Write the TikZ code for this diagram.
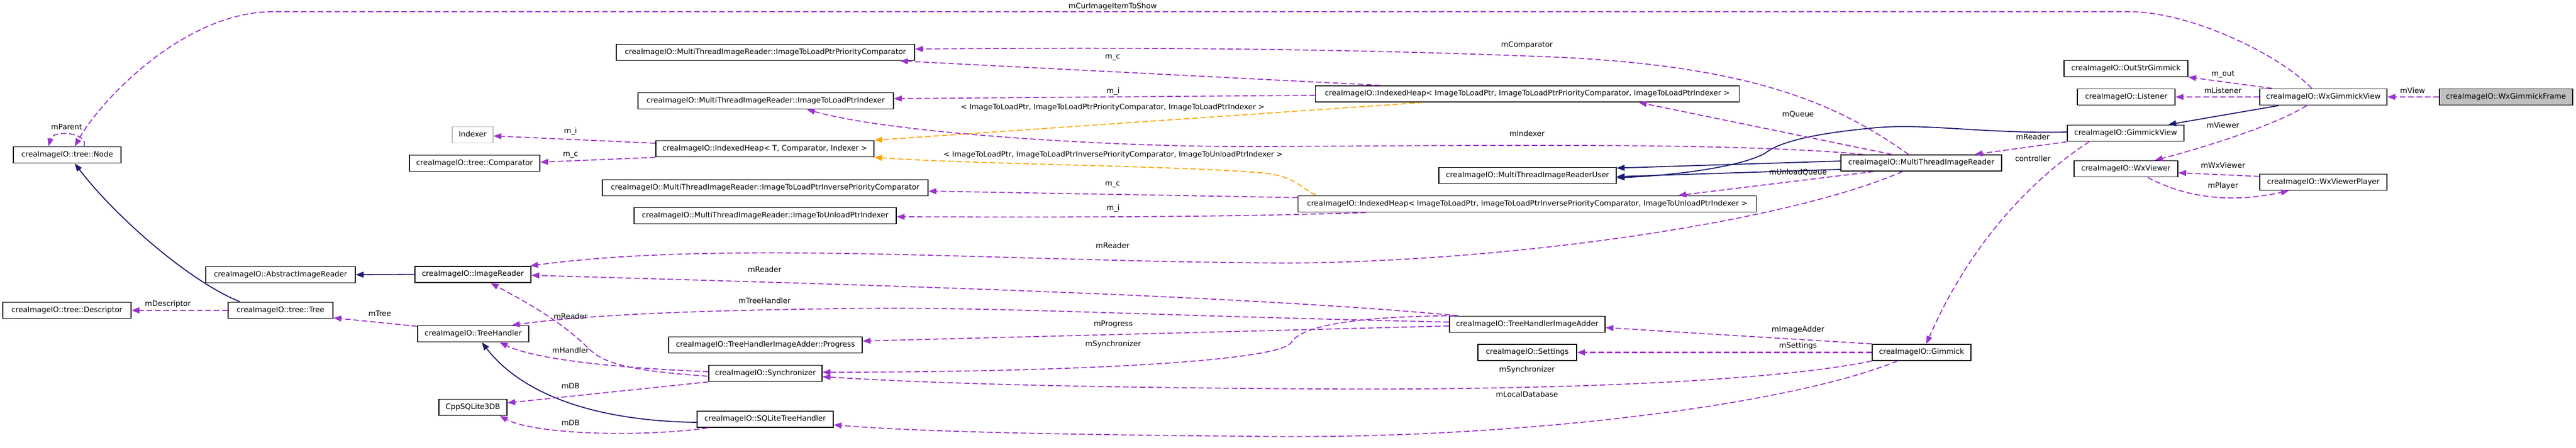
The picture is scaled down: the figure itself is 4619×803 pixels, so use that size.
\documentclass[tikz,border=0pt]{standalone}
\usepackage{fontspec}
\setmainfont{DejaVu Sans}
\usetikzlibrary{arrows.meta,calc}
\definecolor{usecol}{HTML}{9A32CD}
\definecolor{inhcol}{HTML}{191970}
\definecolor{tplcol}{HTML}{FFA500}
\definecolor{grayfill}{HTML}{BFBFBF}
\begin{document}
\begin{tikzpicture}[x=1pt,y=-1pt,
  cls/.style={draw=black, line width=1.8pt, fill=white, inner sep=0pt, minimum height=29pt,
    text height=9.7pt, text depth=3.1pt, font=\fontsize{13.33}{16}\selectfont},
  lbl/.style={inner sep=0pt, text height=9.7pt, text depth=3.1pt, font=\fontsize{13.33}{16}\selectfont},
  tipA/.style={-{Triangle[length=14pt,width=10.5pt]}},
  use/.style={draw=usecol, line width=1.8pt, dash pattern=on 10pt off 5pt, tipA},
  usethick/.style={use, line width=2.4pt},
  inh/.style={draw=inhcol, line width=1.8pt, tipA},
  tpl/.style={draw=tplcol, line width=1.8pt, dash pattern=on 10pt off 5pt, tipA}
]
\fill[white] (0,0) rectangle (4619,803);
\useasboundingbox (0,0) rectangle (4619,803);

% ---------- classes ----------
\node[cls, minimum width=193pt] (nNode) at (120.5,278) {creaImageIO::tree::Node};
\node[cls, minimum width=268pt] (nAbstr) at (503,493) {creaImageIO::AbstractImageReader};
\node[cls, minimum width=230pt] (nDescr) at (120,557) {creaImageIO::tree::Descriptor};
\node[cls, minimum width=188pt] (nTree) at (503,557) {creaImageIO::tree::Tree};
\node[cls, minimum width=208pt] (nImgReader) at (848,492.5) {creaImageIO::ImageReader};
\node[cls, minimum width=199pt] (nTreeHandler) at (848.5,599) {creaImageIO::TreeHandler};
\node[cls, minimum width=122pt] (nCppSQL) at (848,731) {CppSQLite3DB};
\node[cls, draw=grayfill, minimum width=73pt] (nIndexer) at (847.5,242) {Indexer};
\node[cls, minimum width=234pt] (nComparator) at (851,293) {creaImageIO::tree::Comparator};
\node[cls, minimum width=535pt] (nPComp) at (1372.5,94) {creaImageIO::MultiThreadImageReader::ImageToLoadPtrPriorityComparator};
\node[cls, minimum width=458pt] (nLoadIdx) at (1373,181) {creaImageIO::MultiThreadImageReader::ImageToLoadPtrIndexer};
\node[cls, minimum width=391pt] (nHeapT) at (1371.5,267) {creaImageIO::IndexedHeap< T, Comparator, Indexer >};
\node[cls, minimum width=584pt] (nIPComp) at (1372,337) {creaImageIO::MultiThreadImageReader::ImageToLoadPtrInversePriorityComparator};
\node[cls, minimum width=470pt] (nUnloadIdx) at (1372,387) {creaImageIO::MultiThreadImageReader::ImageToUnloadPtrIndexer};
\node[cls, minimum width=347pt] (nProgress) at (1372.5,619) {creaImageIO::TreeHandlerImageAdder::Progress};
\node[cls, minimum width=203pt] (nSync) at (1372.5,670) {creaImageIO::Synchronizer};
\node[cls, minimum width=244pt] (nSQLTH) at (1372,752.5) {creaImageIO::SQLiteTreeHandler};
\node[cls, minimum width=760pt] (nHeapL) at (2738.5,168.5) {creaImageIO::IndexedHeap< ImageToLoadPtr, ImageToLoadPtrPriorityComparator, ImageToLoadPtrIndexer >};
\node[cls, minimum width=318pt] (nMTIRU) at (2739,315) {creaImageIO::MultiThreadImageReaderUser};
\node[cls, minimum width=822pt] (nHeapU) at (2738.5,366) {creaImageIO::IndexedHeap< ImageToLoadPtr, ImageToLoadPtrInversePriorityComparator, ImageToUnloadPtrIndexer >};
\node[cls, minimum width=279pt] (nTHIA) at (2738.5,582) {creaImageIO::TreeHandlerImageAdder};
\node[cls, minimum width=177pt] (nSettings) at (2738.5,632.5) {creaImageIO::Settings};
\node[cls, minimum width=288pt] (nMTIR) at (3445,292.5) {creaImageIO::MultiThreadImageReader};
\node[cls, minimum width=177pt] (nGimmick) at (3445.5,632.5) {creaImageIO::Gimmick};
\node[cls, minimum width=222pt] (nOutStr) at (3812,123) {creaImageIO::OutStrGimmick};
\node[cls, minimum width=175pt] (nListener) at (3812.5,174) {creaImageIO::Listener};
\node[cls, minimum width=209pt] (nGView) at (3811.5,239) {creaImageIO::GimmickView};
\node[cls, minimum width=186pt] (nWxViewer) at (3812,303) {creaImageIO::WxViewer};
\node[cls, minimum width=228pt] (nWxGView) at (4166,174) {creaImageIO::WxGimmickView};
\node[cls, minimum width=228pt] (nWxPlayer) at (4166,327) {creaImageIO::WxViewerPlayer};
\node[cls, fill=grayfill, minimum width=239pt] (nFrame) at (4493.5,174) {creaImageIO::WxGimmickFrame};

% ---------- inheritance ----------
\draw[inh] ($(nTree.north west)+(22,0)$) .. controls (330,500) and (200,380) .. ($(nNode.south)+(13.5,0)$);
\draw[inh] (nImgReader.west) -- (nAbstr.east);
\draw[inh] ($(nSQLTH.west)+(0,5.5)$) .. controls (1050,755) and (930,700) .. ($(nTreeHandler.south)+(15.5,0)$);
\draw[inh] ($(nMTIR.west)+(0,-3.5)$) -- ($(nMTIRU.north east)+(0,2)$);
\draw[inh] ($(nMTIR.west)+(0,11.5)$) -- ($(nMTIRU.east)+(0,2)$);
\draw[inh] ($(nGView.west)+(0,-2)$) .. controls (3550,240) and (3450,220) .. (3355,230)
   .. controls (3250,240) and (3190,255) .. (3165,275)
   .. controls (3120,300) and (3000,315) .. ($(nMTIRU.east)+(0,4)$);
\draw[inh] ($(nWxGView.south west)+(35,0)$) -- ($(nGView.north)+(76.5,0)$);

% ---------- template instances ----------
\draw[tpl] ($(nHeapL.south west)+(194,0)$) -- (nHeapT.north east);
\draw[tpl] ($(nHeapU.north west)+(33,0)$) .. controls (2330,335) and (2320,315) .. (2260,310)
   .. controls (2100,297) and (1750,295) .. (nHeapT.south east);

% ---------- usage ----------
\draw[use] ($(nWxGView.north)+(-21,0)$) .. controls (4090,100) and (3930,21) .. (3817,21) -- (490,21)
   .. controls (330,21) and (180,180) .. ($(nNode.north)+(13.5,0)$);
\draw[use] ($(nNode.north)+(30,0)$) .. controls (160,238) and (95,232) .. ($(nNode.north)+(-33.5,0)$);
\draw[usethick] (nTree.west) -- (nDescr.east);
\draw[use] ($(nTreeHandler.north west)+(0,2)$) -- ($(nTree.south east)+(0,-2)$);
\draw[use] ($(nHeapT.west)+(0,-10)$) -- ($(nIndexer.east)+(0,2)$);
\draw[use] (nHeapT.south west) -- ($(nComparator.east)+(0,-2)$);
\draw[use] ($(nMTIR.north)+(-23,0)$) .. controls (3300,190) and (3150,120) .. (2800,103)
   .. controls (2400,86) and (2000,85) .. ($(nPComp.east)+(0,-6)$);
\draw[use] ($(nHeapL.north west)+(117,0)$) -- ($(nPComp.south east)+(-27,0)$);
\draw[use] ($(nHeapL.west)+(0,2.5)$) -- ($(nLoadIdx.east)+(0,-4)$);
\draw[use] ($(nMTIR.north west)+(41,0)$) .. controls (3100,254) and (2600,262) .. (2246,263)
   .. controls (2000,264) and (1600,240) .. ($(nLoadIdx.south)+(74,0)$);
\draw[use] ($(nMTIR.north west)+(92,0)$) -- ($(nHeapL.south west)+(581,0)$);
\draw[use] ($(nMTIR.south west)+(60,0)$) -- ($(nHeapU.north west)+(683,0)$);
\draw[use] ($(nHeapU.north west)+(0,4)$) -- ($(nIPComp.east)+(0,6)$);
\draw[use] ($(nHeapU.south west)+(123,0)$) .. controls (2200,390) and (1900,390) .. ($(nUnloadIdx.east)+(0,2)$);
\draw[use] ($(nMTIR.south west)+(111,0)$) .. controls (3200,400) and (2700,470) .. (2310,472)
   .. controls (1800,470) and (1300,430) .. ($(nImgReader.north east)+(-2,0)$);
\draw[use] ($(nTHIA.north west)+(17,0)$) .. controls (2200,528) and (1500,510) .. ($(nImgReader.east)+(0,1.5)$);
\draw[use] ($(nTHIA.west)+(0,-4)$) .. controls (2000,565) and (1800,550) .. (1502,554)
   .. controls (1250,557) and (1050,565) .. ($(nTreeHandler.north)+(69.5,0)$);
\draw[use] ($(nTHIA.west)+(0,3)$) -- ($(nProgress.east)+(0,-7)$);
\draw[use] ($(nTHIA.north west)+(11,0)$) .. controls (2400,568) and (2330,590) .. (2315,615)
   .. controls (2290,650) and (1900,668) .. ($(nSync.east)+(0,-2)$);
\draw[use] (nGimmick.south west) .. controls (3150,690) and (2700,700) .. (2374,698)
   .. controls (2000,696) and (1700,690) .. ($(nSync.east)+(0,6)$);
\draw[use] ($(nGimmick.south west)+(46,0)$) .. controls (3200,730) and (2700,790) .. (2246,783)
   .. controls (1900,780) and (1650,775) .. ($(nSQLTH.east)+(0,10)$);
\draw[use] ($(nSync.west)+(-2,5)$) .. controls (1120,665) and (1080,650) .. (1055,625)
   .. controls (1000,570) and (920,530) .. ($(nImgReader.south)+(32,0)$);
\draw[use] ($(nSync.west)+(0,-3)$) .. controls (1100,660) and (960,645) .. ($(nTreeHandler.south)+(47.5,0)$);
\draw[use] (nSync.south west) -- ($(nCppSQL.east)+(0,-8)$);
\draw[use] ($(nSQLTH.south west)+(20,0)$) .. controls (1150,785) and (960,780) .. ($(nCppSQL.south)+(48,0)$);
\draw[use] (nGimmick.north west) -- ($(nTHIA.east)+(0,6)$);
\draw[usethick] (nGimmick.west) -- (nSettings.east);
\draw[use] (nGView.south west) -- ($(nMTIR.north east)+(-49,0)$);
\draw[use] ($(nGView.south west)+(40,0)$) .. controls (3660,310) and (3540,420) .. ($(nGimmick.north)+(8.5,0)$);
\draw[use] ($(nWxGView.north west)+(23,0)$) -- (nOutStr.south east);
\draw[use] (nWxGView.west) -- (nListener.east);
\draw[use] ($(nWxGView.south west)+(85,0)$) .. controls (4080,225) and (3950,265) .. ($(nWxViewer.north)+(52,0)$);
\draw[use] ($(nWxPlayer.north west)+(0,5)$) -- ($(nWxViewer.east)+(0,7)$);
\draw[use] ($(nWxViewer.south)+(39,0)$) .. controls (3920,355) and (4000,365) .. ($(nWxPlayer.south)+(-62,0)$);
\draw[use] (nFrame.west) -- (nWxGView.east);

% ---------- edge labels ----------
\node[lbl] (lParent) at (119.5,229) {mParent};
\node[lbl] (lCurItem) at (1995,12) {mCurImageItemToShow};
\node[lbl] (lDescr) at (301,546) {mDescriptor};
\node[lbl] (lTree) at (681,564) {mTree};
\node[lbl] (lMi1) at (1023,236) {m\_i};
\node[lbl] (lMc1) at (1023,277) {m\_c};
\node[lbl] (lComp) at (2738,81) {mComparator};
\node[lbl] (lMc2) at (1995,102) {m\_c};
\node[lbl] (lMi2) at (1996,164) {m\_i};
\node[lbl] (lTpl1) at (1995,193) {< ImageToLoadPtr, ImageToLoadPtrPriorityComparator, ImageToLoadPtrIndexer >};
\node[lbl] (lIndexer) at (2738,241) {mIndexer};
\node[lbl] (lQueue) at (3224,206) {mQueue};
\node[lbl] (lTpl2) at (1996,278) {< ImageToLoadPtr, ImageToLoadPtrInversePriorityComparator, ImageToUnloadPtrIndexer >};
\node[lbl] (lUnload) at (3224,310) {mUnloadQueue};
\node[lbl] (lMc3) at (1995,330) {m\_c};
\node[lbl] (lMi3) at (1996,374) {m\_i};
\node[lbl] (lReader1) at (1995,442) {mReader};
\node[lbl] (lReader2) at (1371,485) {mReader};
\node[lbl] (lTreeHandler) at (1371,541) {mTreeHandler};
\node[lbl] (lReader3) at (1023,569) {mReader};
\node[lbl] (lProgress) at (1996,582) {mProgress};
\node[lbl] (lSync1) at (1996,618) {mSynchronizer};
\node[lbl] (lHandler) at (1023,630) {mHandler};
\node[lbl] (lSync2) at (2738,664) {mSynchronizer};
\node[lbl] (lDB1) at (1023,694) {mDB};
\node[lbl] (lLocalDB) at (2738,709) {mLocalDatabase};
\node[lbl] (lDB2) at (1023,760) {mDB};
\node[lbl] (lAdder) at (3224,592) {mImageAdder};
\node[lbl] (lSettings) at (3224,621) {mSettings};
\node[lbl] (lReader4) at (3645,247) {mReader};
\node[lbl] (lController) at (3645,286) {controller};
\node[lbl] (lOut) at (3986,133) {m\_out};
\node[lbl] (lListener) at (3986,164) {mListener};
\node[lbl] (lViewer) at (3986,226) {mViewer};
\node[lbl] (lWxViewer) at (3986,298) {mWxViewer};
\node[lbl] (lPlayer) at (3986,334) {mPlayer};
\node[lbl] (lView) at (4326,164) {mView};
\end{tikzpicture}
\end{document}
